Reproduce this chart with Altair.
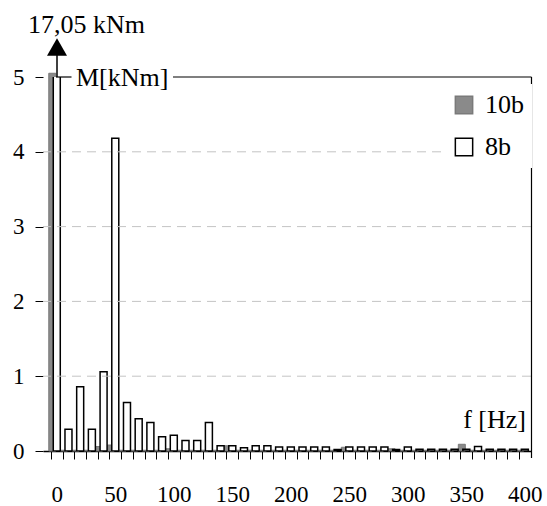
import altair as alt
import pandas as pd

FONT = "Liberation Serif"

# ---- data ----
freqs = list(range(0, 401, 10))
m_8b = [17.05, 0.29, 0.86, 0.29, 1.06, 4.18, 0.65, 0.43, 0.38, 0.19,
        0.21, 0.14, 0.14, 0.38, 0.07, 0.07, 0.045, 0.07, 0.07, 0.055,
        0.055, 0.055, 0.055, 0.055, 0.02, 0.055, 0.055, 0.055, 0.055, 0.02,
        0.055, 0.025, 0.025, 0.025, 0.025, 0.025, 0.06, 0.025, 0.025, 0.025, 0.025]
m_10b = [5.05, 0.01, 0.01, 0.01, 0.06, 0.08, 0.01, 0.01, 0.01, 0.01,
         0.03, 0.01, 0.01, 0.01, 0.01, 0.07, 0.01, 0.01, 0.01, 0.01,
         0.01, 0.01, 0.01, 0.01, 0.01, 0.05, 0.01, 0.01, 0.01, 0.03,
         0.01, 0.01, 0.01, 0.01, 0.01, 0.09, 0.01, 0.01, 0.01, 0.01, 0.01]
series_names = ["10b", "8b"]
x_tick_labels = [0, 50, 100, 150, 200, 250, 300, 350, 400]
y_tick_labels = [0, 1, 2, 3, 4, 5]
grid_values = [1, 2, 3, 4]

df = pd.DataFrame({
    "f": freqs * 2,
    "series": [series_names[0]] * len(freqs) + [series_names[1]] * len(freqs),
    "M": m_10b + m_8b,
})
boundaries = [f - 5 for f in freqs]

xscale = alt.Scale(domain=[-7.5, 401], nice=False, zero=False)
yscale = alt.Scale(domain=[0, 5], nice=False)

xaxis = alt.Axis(
    values=boundaries + x_tick_labels, title=None, grid=False,
    domainColor="black", domainWidth=1.5, tickColor="black", tickSize=8, tickWidth=1,
    tickOpacity={"condition": {"test": "datum.value % 10 !== 0", "value": 1}, "value": 0},
    labelExpr="datum.value % 10 === 0 ? datum.label : ''",
    labelFont=FONT, labelFontSize=23, labelColor="black", labelPadding=24,
    labelOverlap=False, labelFlush=False,
)
yaxis = alt.Axis(
    values=y_tick_labels, title=None, grid=False, domain=False,
    tickColor="black", tickSize=8, tickWidth=1,
    labelFont=FONT, labelFontSize=23, labelColor="black", labelPadding=11,
)
legend = alt.Legend(
    title=None, orient="none", legendX=400, legendY=7, fillColor="white",
    padding=8, symbolType="square", symbolSize=300, symbolStrokeWidth=1.5,
    labelFont=FONT, labelFontSize=26, labelColor="black", labelOffset=8,
    rowPadding=16,
)
fill_enc = alt.Fill("series:N", scale=alt.Scale(domain=series_names, range=["#8a8a8a", "white"]), legend=legend)
stroke_enc = alt.Stroke("series:N", scale=alt.Scale(domain=series_names, range=["#7a7a7a", "black"]), legend=legend)

base = alt.Chart(df)
gray = base.transform_filter("datum.series == '10b'").mark_bar(size=7, xOffset=-4.5, strokeWidth=1).encode(
    x=alt.X("f:Q", scale=xscale, axis=xaxis),
    y=alt.Y("M:Q", scale=yscale, axis=yaxis),
    fill=fill_enc, stroke=stroke_enc,
)
white = base.transform_filter("datum.series == '8b'").mark_bar(size=7, strokeWidth=1.5, clip=True).encode(
    x=alt.X("f:Q", scale=xscale, axis=xaxis),
    y=alt.Y("M:Q", scale=yscale, axis=yaxis),
    fill=fill_enc, stroke=stroke_enc,
)

grid = alt.Chart(pd.DataFrame({"M": grid_values})).mark_rule(
    color="#c4c4c4", strokeDash=[9, 6], strokeWidth=1
).encode(y=alt.Y("M:Q", scale=yscale, axis=yaxis))

one = pd.DataFrame({"a": [0]})
def hrule(x1, x2, y):
    return alt.Chart(one).mark_rule(color="black", strokeWidth=1.2).encode(
        x=alt.value(x1), x2=alt.value(x2), y=alt.value(y))
def vrule(x, y1, y2, w=1.2):
    return alt.Chart(one).mark_rule(color="black", strokeWidth=w).encode(
        x=alt.value(x), y=alt.value(y1), y2=alt.value(y2))
def txt(s, x, y, align="left"):
    return alt.Chart(one).mark_text(text=s, font=FONT, fontSize=26, color="black",
                                    align=align, baseline="alphabetic").encode(
        x=alt.value(x), y=alt.value(y))

frame = [hrule(13, 28.5, 0), hrule(130, 488.5, 0), vrule(488.5, 0, 381)]
arrow = [vrule(14, 0, -27, 1.5),
         alt.Chart(one).mark_point(shape="triangle-up", filled=True, size=400,
                                   color="black", opacity=1).encode(
             x=alt.value(14), y=alt.value(-30))]
texts = [txt("17,05 kNm", -15, -44), txt("M[kNm]", 33, 9), txt("f [Hz]", 483, 351, "right")]

chart = alt.layer(gray, white, grid, *frame, *arrow, *texts).properties(
    width=488, height=374,
    autosize=alt.AutoSizeParams(type="none"),
    padding={"left": 43, "top": 77, "right": 16, "bottom": 55},
).configure_view(stroke=None)

chart.save("out.html", embed_options={"renderer": "svg", "actions": False})
